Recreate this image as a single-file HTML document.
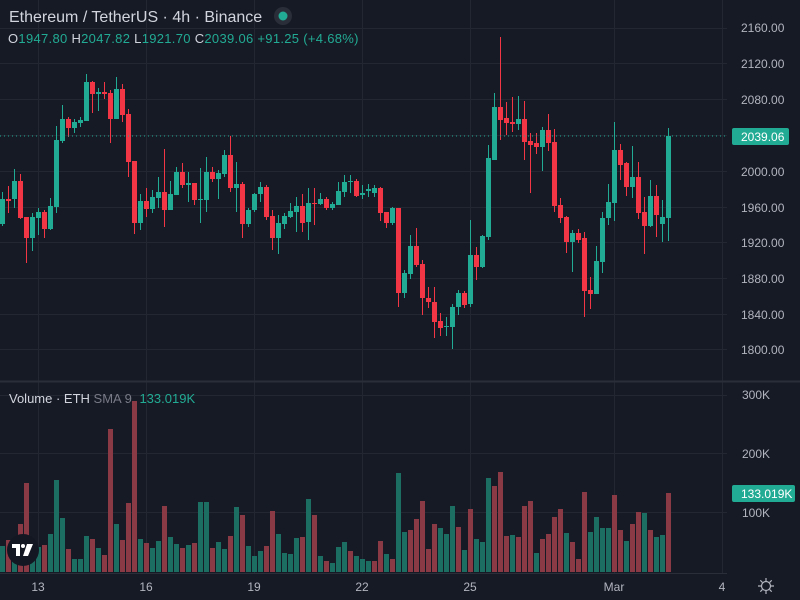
<!DOCTYPE html>
<html><head><meta charset="utf-8">
<style>
html,body{margin:0;padding:0;background:#161a25;}
body{width:800px;height:600px;overflow:hidden;position:relative;font-family:"Liberation Sans",sans-serif;}
svg{position:absolute;left:0;top:0;}
</style></head>
<body>
<svg id="s" width="800" height="600" xmlns="http://www.w3.org/2000/svg">
<rect width="800" height="600" fill="#161a25"/>
<g id="grid" stroke="#232732" stroke-width="1">
<line x1="0" y1="28.5" x2="727" y2="28.5"/>
<line x1="0" y1="63.5" x2="727" y2="63.5"/>
<line x1="0" y1="99.5" x2="727" y2="99.5"/>
<line x1="0" y1="135.5" x2="727" y2="135.5"/>
<line x1="0" y1="171.5" x2="727" y2="171.5"/>
<line x1="0" y1="207.5" x2="727" y2="207.5"/>
<line x1="0" y1="242.5" x2="727" y2="242.5"/>
<line x1="0" y1="278.5" x2="727" y2="278.5"/>
<line x1="0" y1="314.5" x2="727" y2="314.5"/>
<line x1="0" y1="349.5" x2="727" y2="349.5"/>
<line x1="0" y1="395.5" x2="727" y2="395.5"/>
<line x1="0" y1="453.5" x2="727" y2="453.5"/>
<line x1="0" y1="512.5" x2="727" y2="512.5"/>
<line x1="38.5" y1="0" x2="38.5" y2="573"/>
<line x1="146.5" y1="0" x2="146.5" y2="573"/>
<line x1="254.5" y1="0" x2="254.5" y2="573"/>
<line x1="362.5" y1="0" x2="362.5" y2="573"/>
<line x1="470.5" y1="0" x2="470.5" y2="573"/>
<line x1="614.5" y1="0" x2="614.5" y2="573"/>
<line x1="722.5" y1="0" x2="722.5" y2="573"/>
</g>
<line x1="0" y1="381.5" x2="800" y2="381.5" stroke="#2a2e39" stroke-width="2"/>
<line x1="0" y1="573.5" x2="727" y2="573.5" stroke="#2a2e39" stroke-width="1"/>
<g id="vol"></g>
<g id="candles"></g>
<line x1="0" y1="136" x2="727" y2="136" stroke="#22ab94" stroke-width="1" stroke-dasharray="1,3"/>
<!-- logo -->
<circle cx="23" cy="550" r="16" fill="#131722"/>
<path d="M12,544 h8 v12 h-4 v-8 h-4z" fill="#fff"/>
<circle cx="23" cy="546" r="2" fill="#fff"/>
<path d="M27,544 h6 l-5,12 h-5z" fill="#fff"/>
<!-- header -->
<text x="9" y="22" font-size="16" fill="#d1d4dc">Ethereum / TetherUS · 4h · Binance</text>
<circle cx="283" cy="16" r="9" fill="#2a2e39"/>
<circle cx="283" cy="16" r="4.5" fill="#22ab94"/>
<text x="8" y="43" font-size="13" letter-spacing="0.3" fill="#22ab94"><tspan fill="#d1d4dc">O</tspan>1947.80 <tspan fill="#d1d4dc">H</tspan>2047.82 <tspan fill="#d1d4dc">L</tspan>1921.70 <tspan fill="#d1d4dc">C</tspan>2039.06 +91.25 (+4.68%)</text>
<text x="9" y="403" font-size="13" fill="#d1d4dc">Volume · ETH <tspan fill="#787b86">SMA 9</tspan> <tspan fill="#22ab94" dx="4">133.019K</tspan></text>
<!-- price axis -->
<g font-size="12" fill="#b2b5be">
<text x="741" y="32">2160.00</text>
<text x="741" y="68">2120.00</text>
<text x="741" y="104">2080.00</text>
<text x="741" y="176">2000.00</text>
<text x="741" y="212">1960.00</text>
<text x="741" y="247">1920.00</text>
<text x="741" y="283">1880.00</text>
<text x="741" y="319">1840.00</text>
<text x="741" y="354">1800.00</text>
<text x="742" y="399">300K</text>
<text x="742" y="458">200K</text>
<text x="742" y="517">100K</text>
</g>
<rect x="732" y="128" width="57" height="17" rx="2" fill="#22ab94"/>
<text x="741" y="141" font-size="12" fill="#fff">2039.06</text>
<rect x="732" y="485" width="63" height="17" rx="2" fill="#22ab94"/>
<text x="741" y="498" font-size="12" fill="#fff">133.019K</text>
<!-- time axis -->
<g font-size="12" fill="#b2b5be" text-anchor="middle">
<text x="38" y="591">13</text>
<text x="146" y="591">16</text>
<text x="254" y="591">19</text>
<text x="362" y="591">22</text>
<text x="470" y="591">25</text>
<text x="614" y="591">Mar</text>
<text x="722" y="591">4</text>
</g>
<g stroke="#b2b5be" fill="none" stroke-width="1.2">
<circle cx="766" cy="586" r="4.5"/>
<path d="M766,578v3M766,591v3M758,586h3M771,586h3M760.3,580.3l2.1,2.1M769.6,589.6l2.1,2.1M760.3,591.7l2.1,-2.1M769.6,582.4l2.1,-2.1"/>
</g>
</svg>
<script>
var C=[[199,224,192,226,'g'],[199,201,186,213,'r'],[181,199,169,208,'g'],[181,218,174,219,'r'],[217,238,217,263,'r'],[217,238,213,251,'g'],[212,218,208,235,'g'],[212,229,210,238,'r'],[206,229,198,230,'g'],[140,207,126,213,'g'],
[119,141,105,143,'g'],[119,128,117,137,'r'],[122,128,119,133,'g'],[120,123,117,127,'g'],[82,121,74,121,'g'],[82,94,81,113,'r'],[92,94,88,111,'g'],[92,94,82,99,'r'],[93,119,90,143,'r'],[89,119,77,119,'g'],
[89,115,84,122,'r'],[114,162,109,177,'r'],[161,223,161,234,'r'],[201,223,194,230,'g'],[201,209,188,217,'r'],[197,209,190,213,'g'],[192,198,177,208,'g'],[192,210,149,227,'r'],[194,210,181,210,'g'],[172,195,167,195,'g'],
[172,185,163,188,'r'],[183,185,172,202,'g'],[183,200,183,205,'r'],[199,200,168,223,'g'],[172,200,157,212,'g'],[172,179,167,182,'r'],[173,179,170,199,'g'],[155,174,150,177,'g'],[155,188,136,192,'r'],[184,188,162,212,'g'],
[184,224,182,238,'r'],[210,224,208,227,'g'],[194,210,193,212,'g'],[187,194,182,202,'g'],[187,217,185,220,'r'],[216,238,210,250,'r'],[223,238,215,254,'g'],[216,224,213,229,'g'],[211,217,203,218,'g'],[206,212,197,232,'g'],
[206,223,194,232,'r'],[203,222,188,240,'g'],[203,204,188,225,'r'],[199,204,193,205,'g'],[199,208,197,210,'r'],[204,208,202,210,'g'],[191,205,182,205,'g'],[182,192,175,197,'g'],[181,182,175,193,'g'],[181,196,179,197,'r'],
[193,195,185,199,'g'],[189,191,184,197,'g'],[188,193,185,197,'g'],[188,213,187,221,'r'],[212,223,212,228,'r'],[208,223,207,225,'g'],[208,293,208,307,'r'],[273,293,270,298,'g'],[246,274,235,279,'g'],[246,265,228,267,'r'],
[264,298,260,315,'r'],[298,302,287,308,'r'],[302,322,287,338,'r'],[321,328,313,336,'r'],[326,327,317,336,'g'],[307,327,304,349,'g'],[293,307,290,315,'g'],[293,305,291,308,'r'],[255,304,220,307,'g'],[255,267,247,280,'r'],
[236,267,235,268,'g'],[158,237,145,240,'g'],[107,160,93,160,'g'],[107,120,37,140,'r'],[118,123,102,135,'r'],[122,124,97,132,'r'],[119,124,96,130,'g'],[119,142,101,160,'r'],[141,145,133,193,'r'],[143,147,133,154,'r'],
[130,147,127,171,'g'],[130,143,114,151,'r'],[142,206,129,212,'r'],[205,218,198,223,'r'],[217,242,216,253,'r'],[233,242,230,272,'g'],[233,240,229,243,'r'],[238,291,232,317,'r'],[290,294,277,309,'r'],[261,294,246,294,'g'],
[218,262,212,273,'g'],[202,218,184,225,'g'],[150,203,122,221,'g'],[150,165,144,180,'r'],[163,187,162,196,'r'],[177,187,146,198,'g'],[177,213,162,219,'r'],[212,226,197,254,'r'],[196,226,180,227,'g'],[196,215,185,237,'r'],
[217,224,200,242,'g'],[136,218,128,241,'g']];
var V=[546,540,550,524,483,553,547,545,534,480,518,549,559,559,536,539,548,555,429,524,540,503,401,539,543,548,541,506,537,544,548,545,543,502,502,548,542,549,536,507,515,546,556,551,546,511,534,553,554,538,537,499,515,556,561,563,547,
542,551,556,559,561,561,541,554,559,473,532,530,519,501,549,524,528,534,506,527,550,509,539,542,478,486,472,536,535,537,506,501,553,539,534,517,509,533,542,559,492,532,517,528,528,495,530,541,524,512,513,530,537,535,493];
var VC="grgrrggrgggrgggrgrrgrrrgrggrggrgrggrggrgrgggrrggggrgrgrgggrgggrrgrggrrrrrgggrgrgggrrrgrrrgrrrrgrrrggggrrgrrgrgg";
var NS="http://www.w3.org/2000/svg";
function R(g,x,y,w,h,f){var r=document.createElementNS(NS,'rect');r.setAttribute('x',x);r.setAttribute('y',y);r.setAttribute('width',w);r.setAttribute('height',Math.max(h,1));r.setAttribute('fill',f);g.appendChild(r);}
var gc=document.getElementById('candles'),gv=document.getElementById('vol');
for(var k=0;k<C.length;k++){var c=C[k],x=2+6*k,f=c[4]=='g'?'#22ab94':'#f23645';
R(gc,x,c[2],1,c[3]-c[2],f);R(gc,x-2,c[0],5,c[1]-c[0],f);}
for(var k=0;k<V.length;k++){var x=2+6*k,f=VC[k]=='g'?'#1d6e62':'#8a3a45';R(gv,x-2,V[k],5,572-V[k],f);}
</script>
</body></html>
